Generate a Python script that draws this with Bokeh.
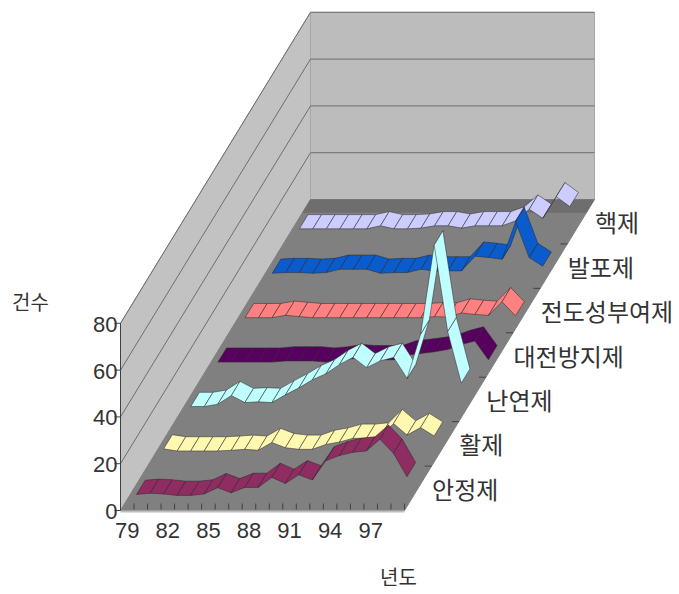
from bokeh.plotting import figure
from bokeh.models import ColumnDataSource
from bokeh.core.properties import value
from bokeh.embed import file_html
from bokeh.resources import INLINE

years = list(range(79, 100))
year_labels = ["79", "82", "85", "88", "91", "94", "97"]
y_ticks = [0, 20, 40, 60, 80]

names = ["안정제", "활제", "난연제", "대전방지제", "전도성부여제", "발포제", "핵제"]
stabilizer = [0.4, 0.9, 0.6, 0, 0, 0.6, 3.3, 1.1, 3.4, 3.4, 7.7, 5.1, 8.8, 6.6, 14.8, 17, 18.4, 19, 24, 18, 8]
lubricant = [0.9, 0, 0, 0, 0, 0.3, 0.7, 0.3, 3.6, 1.4, 0.7, 0.7, 2.8, 3.8, 5.4, 5.4, 6, 11.7, 6.8, 10, 6.4]
flame = [0, 0, 1, 4.7, 1.7, 2, 1.7, 5, 8, 11.5, 14, 18, 21, 16.6, 19.5, 21, 12, 31, 69, 32, 10]
antistatic = [0, 0, 0, 0, 0, 0.5, 0.5, 0.5, 0, 0.5, 1.5, 1, 1, 1, 3, 3.7, 4.4, 5.4, 7.5, 9, 1]
conductive = [0, 0, 0, 1, 0.5, 0, 0, 0, 0, 0, 0, 0, 0, 0, 0.4, 0.3, 2, 1.4, 1, 6.8, 0.8]
foaming = [0, 0.3, 0.3, 0, 0.3, 1.7, 1.7, 1.7, 0, 0.3, 0.3, 1.7, 1, 1, 1, 7.3, 6.7, 6, 22, 6.7, 3]
nucleating = [0, 0, 0, 0, 0, 0, 1.3, 0, 0, 0.3, 1.3, 1.3, 0.3, 1.3, 1.3, 1.3, 3.4, 8.4, 4.5, 13.7, 9.5]
series = [stabilizer, lubricant, flame, antistatic, conductive, foaming, nucleating]
colors = ["#8F2C62", "#FFF8B0", "#C0FFFF", "#580060", "#FF8080", "#0A5CCC", "#CCCCFF"]

FX, FY, BX, BY, W, VS = 120.0, 510.0, 310.0, 199.0, 284.0, 2.34
NC, NS = len(years), len(names)
HALF = 0.16


def proj(i, d, v):
    """category position i, depth d (series units), value v -> page position"""
    f = d / NS
    return (FX + (BX - FX) * f + W * i / NC, FY + (BY - FY) * f - v * VS)


p = figure(width=679, height=594, x_range=(0, 679), y_range=(594, 0),
           output_backend="svg", toolbar_location=None, min_border=0)
p.axis.visible = False
p.grid.visible = False
p.outline_line_color = None
p.background_fill_color = "white"
p.border_fill_color = "white"

top = 80
# walls and floor
c = [proj(0, 0, 0), proj(0, NS, 0), proj(0, NS, top), proj(0, 0, top)]
p.patch([q[0] for q in c], [q[1] for q in c], fill_color="#C2C2C2", line_color="#A8A8A8", line_width=1)
c = [proj(0, NS, 0), proj(NC, NS, 0), proj(NC, NS, top), proj(0, NS, top)]
p.patch([q[0] for q in c], [q[1] for q in c], fill_color="#BCBCBC", line_color="#A8A8A8", line_width=1)
c = [proj(0, 0, 0), proj(NC, 0, 0), proj(NC, NS, 0), proj(0, NS, 0)]
p.patch([q[0] for q in c], [q[1] for q in c], fill_color="#808080", line_color="#808080", line_width=1)
# darker band at back of the floor
c = [proj(0, NS - 0.3, 0), proj(NC, NS - 0.3, 0), proj(NC, NS, 0), proj(0, NS, 0)]
p.patch([q[0] for q in c], [q[1] for q in c], fill_color="#6E6E6E", line_color=None)
# thin light front edge
a, b = proj(0, 0, 0), proj(NC, 0, 0)
p.line([a[0], b[0]], [a[1] + 1, b[1] + 1], line_color="#BDBDBD", line_width=2)

# grid lines
for t in y_ticks[1:]:
    a, b, e = proj(0, 0, t), proj(0, NS, t), proj(NC, NS, t)
    p.line([a[0], b[0], e[0]], [a[1], b[1], e[1]], line_color="#6E6E6E", line_width=1)
a, b = proj(0, 0, 0), proj(0, 0, top)
p.line([a[0], b[0]], [a[1], b[1]], line_color="#404040", line_width=1)
for t in y_ticks:
    a = proj(0, 0, t)
    p.line([a[0] - 6, a[0]], [a[1], a[1]], line_color="#404040", line_width=1)
    p.text([a[0] - 3], [a[1] + 1], text=[str(t)], text_font=value("Liberation Sans"), text_font_size="22px",
           text_align="right", text_baseline="middle", text_color="#333333")

# floor ticks
for i in range(NC + 1):
    a = proj(i, 0, 0)
    p.line([a[0], a[0]], [a[1] - 7, a[1] - 1], line_color="#404040", line_width=1)
for d in range(1, NS):
    a = proj(NC, d, 0)
    p.line([a[0] - 7, a[0]], [a[1], a[1]], line_color="#404040", line_width=1)

# ribbons, back to front
for s in range(NS - 1, -1, -1):
    vals = series[s]
    xs, ys = [], []
    for i in range(NC - 1):
        q = [proj(i + 0.5, s + 0.5 - HALF, vals[i]), proj(i + 1.5, s + 0.5 - HALF, vals[i + 1]),
             proj(i + 1.5, s + 0.5 + HALF, vals[i + 1]), proj(i + 0.5, s + 0.5 + HALF, vals[i])]
        xs.append([k[0] for k in q])
        ys.append([k[1] for k in q])
    p.patches("xs", "ys", source=ColumnDataSource(dict(xs=xs, ys=ys)), fill_color=colors[s],
              line_color="#2A2A2A", line_width=0.7, line_alpha=0.75)

# year labels
for lab in year_labels:
    a = proj(years.index(int(lab)) + 0.5, 0, 0)
    p.text([a[0]], [530], text=[lab], text_font=value("Liberation Sans"), text_font_size="22px",
           text_align="center", text_baseline="middle", text_color="#333333")

# series labels
for s, nm in enumerate(names):
    a = proj(NC, s + 0.5, 0)
    p.text([a[0] + 14], [a[1]], text=[nm], text_font=value("Noto Sans CJK KR"), text_font_size="24px",
           text_align="left", text_baseline="middle", text_color="#333333")

p.text([30], [301], text=["건수"], text_font=value("Noto Sans CJK KR"), text_font_size="20px",
       text_align="center", text_baseline="middle", text_color="#333333")
p.text([398], [576], text=["년도"], text_font=value("Noto Sans CJK KR"), text_font_size="20px",
       text_align="center", text_baseline="middle", text_color="#333333")

open("out.html", "w").write(file_html(p, INLINE))
